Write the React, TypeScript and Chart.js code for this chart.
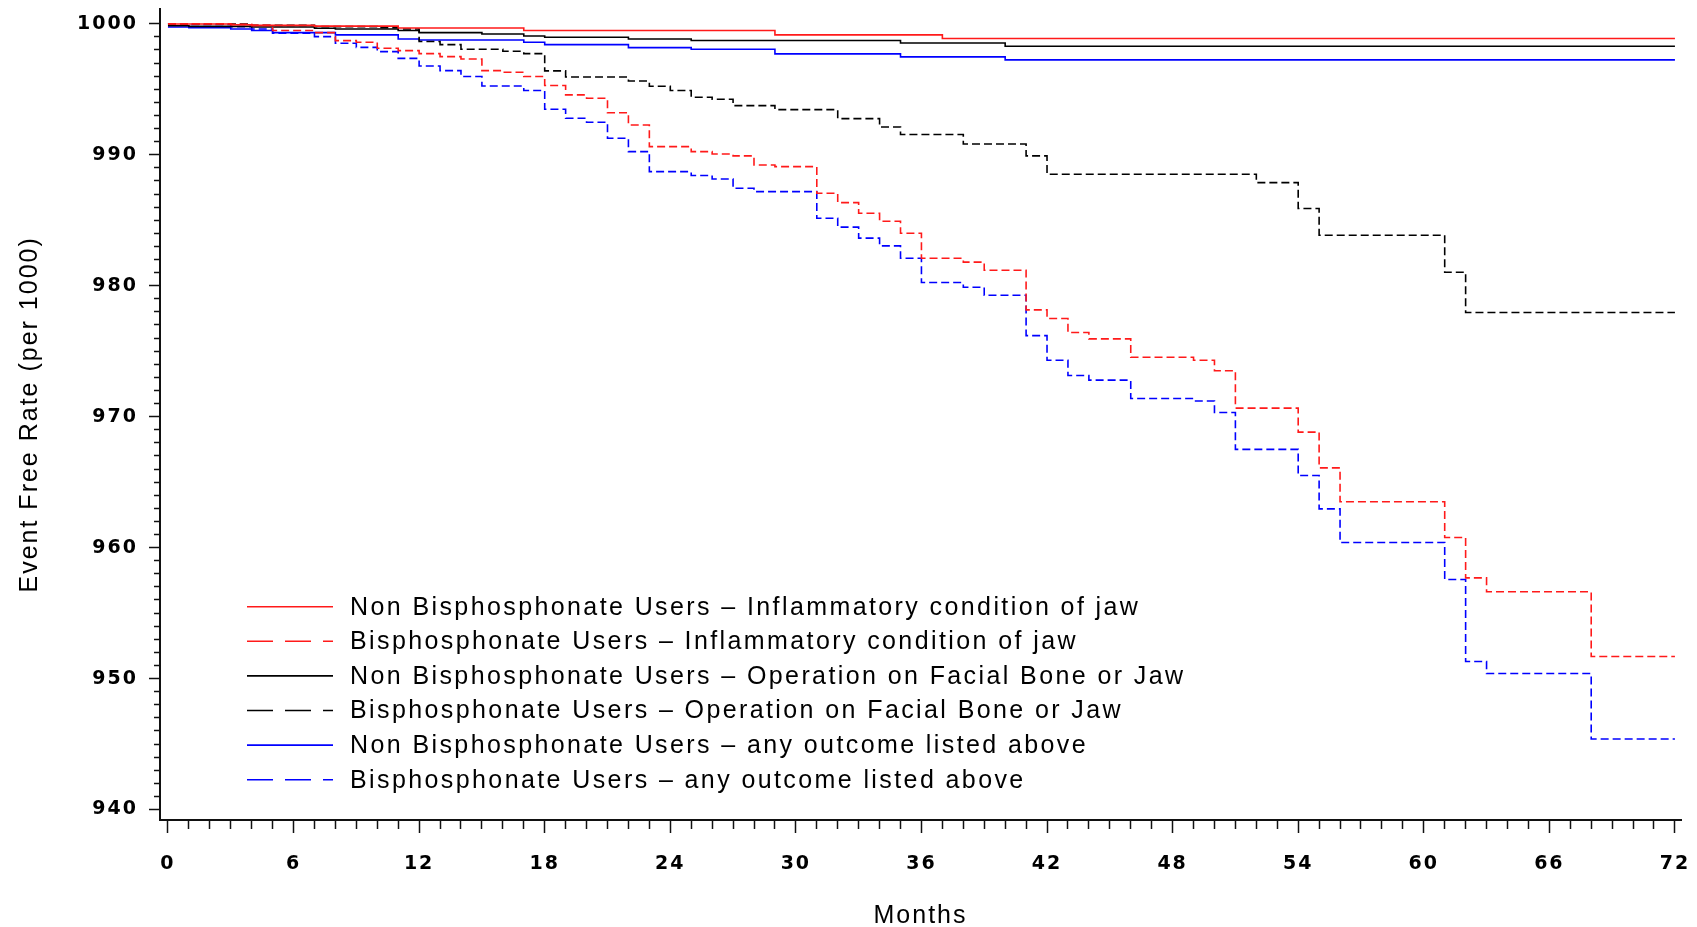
import React, { useEffect, useRef } from "react";
import { Chart, registerables } from "chart.js";

Chart.register(...registerables);

// ---------- DATA ----------
const seriesLabels = [
  "Non Bisphosphonate Users – Inflammatory condition of jaw",
  "Bisphosphonate Users – Inflammatory condition of jaw",
  "Non Bisphosphonate Users – Operation on Facial Bone or Jaw",
  "Bisphosphonate Users – Operation on Facial Bone or Jaw",
  "Non Bisphosphonate Users – any outcome listed above",
  "Bisphosphonate Users – any outcome listed above",
];

// Each series: month at which a level starts, and the event free rate from then on
const nonBpInflMonths = [0, 3, 4, 7, 11, 17, 29, 37, 72];
const nonBpInflValues = [999.98, 999.92, 999.88, 999.82, 999.68, 999.48, 999.15, 998.87, 998.87];

const bpInflMonths = [
  0, 3, 4, 5, 7, 8, 9, 10, 11, 12, 13, 14, 15, 16, 17, 18, 19, 20, 21, 22, 23, 25, 26, 27, 28, 29,
  31, 32, 33, 34, 35, 36, 38, 39, 41, 42, 43, 44, 46, 49, 50, 51, 54, 55, 56, 61, 62, 63, 68, 72,
];
const bpInflValues = [
  1000.0, 999.95, 999.88, 999.48, 999.32, 998.71, 998.59, 998.13, 997.95, 997.72, 997.49, 997.31,
  996.42, 996.3, 995.97, 995.28, 994.57, 994.31, 993.21, 992.27, 990.62, 990.24, 990.06, 989.91,
  989.22, 989.09, 987.06, 986.34, 985.53, 984.92, 984.0, 982.1, 981.8, 981.18, 978.15, 977.49,
  976.42, 975.94, 974.54, 974.31, 973.5, 970.65, 968.82, 966.09, 963.5, 960.77, 957.69, 956.63,
  951.69, 951.69,
];

const nonBpOperMonths = [0, 1, 4, 7, 8, 11, 12, 15, 17, 18, 22, 25, 35, 40, 72];
const nonBpOperValues = [
  999.85, 999.8, 999.75, 999.66, 999.6, 999.48, 999.32, 999.22, 999.07, 998.97, 998.84, 998.72,
  998.53, 998.28, 998.28,
];

const bpOperMonths = [
  0, 4, 7, 10, 11, 12, 13, 14, 16, 17, 18, 19, 22, 23, 24, 25, 26, 27, 29, 32, 34, 35, 38, 41, 42,
  52, 54, 55, 61, 62, 72,
];
const bpOperValues = [
  999.98, 999.88, 999.78, 999.7, 999.6, 998.64, 998.41, 998.05, 997.9, 997.72, 996.4, 995.94,
  995.63, 995.23, 994.9, 994.39, 994.24, 993.75, 993.44, 992.76, 992.12, 991.54, 990.82, 989.91,
  988.51, 987.87, 985.89, 983.85, 981.03, 977.95, 977.95,
];

const nonBpAnyMonths = [0, 1, 3, 4, 5, 8, 11, 12, 17, 18, 22, 25, 29, 35, 40, 72];
const nonBpAnyValues = [
  999.75, 999.7, 999.6, 999.48, 999.32, 999.15, 998.84, 998.76, 998.59, 998.41, 998.18, 998.05,
  997.7, 997.47, 997.24, 997.24,
];

const bpAnyMonths = [
  0, 1, 3, 4, 5, 7, 8, 9, 10, 11, 12, 13, 14, 15, 17, 18, 19, 20, 21, 22, 23, 25, 26, 27, 28, 31,
  32, 33, 34, 35, 36, 38, 39, 41, 42, 43, 44, 46, 49, 50, 51, 54, 55, 56, 61, 62, 63, 68, 72,
];
const bpAnyValues = [
  1000.0, 999.95, 999.78, 999.6, 999.27, 999.02, 998.51, 998.2, 997.87, 997.36, 996.78, 996.42,
  995.97, 995.25, 994.9, 993.47, 992.79, 992.48, 991.26, 990.24, 988.71, 988.41, 988.15, 987.44,
  987.18, 985.15, 984.47, 983.63, 983.04, 982.1, 980.24, 979.88, 979.27, 976.19, 974.31, 973.14,
  972.79, 971.38, 971.2, 970.32, 967.5, 965.5, 962.96, 960.39, 957.57, 951.3, 950.39, 945.38,
  945.38,
];

const xMajorTicks = [0, 6, 12, 18, 24, 30, 36, 42, 48, 54, 60, 66, 72];
const yMajorTicks = [940, 950, 960, 970, 980, 990, 1000];

const xTitle = "Months";
const yTitle = "Event Free Rate (per 1000)";

// ---------- helpers ----------
const toPoints = (months: number[], values: number[]) =>
  months.map((m, i) => ({ x: m, y: values[i] }));

const range = (a: number, b: number) => {
  const out: number[] = [];
  for (let v = a; v <= b; v++) out.push(v);
  return out;
};

const RED = "#ff1a1a";
const BLACK = "#000000";
const BLUE = "#0000ff";
const DASH = [8, 4];

export default function App() {
  const canvasRef = useRef<HTMLCanvasElement | null>(null);

  useEffect(() => {
    const canvas = canvasRef.current;
    if (!canvas) return;

    const series = [
      { m: nonBpInflMonths, v: nonBpInflValues, c: RED, d: [] as number[] },
      { m: bpInflMonths, v: bpInflValues, c: RED, d: DASH },
      { m: nonBpOperMonths, v: nonBpOperValues, c: BLACK, d: [] as number[] },
      { m: bpOperMonths, v: bpOperValues, c: BLACK, d: DASH },
      { m: nonBpAnyMonths, v: nonBpAnyValues, c: BLUE, d: [] as number[] },
      { m: bpAnyMonths, v: bpAnyValues, c: BLUE, d: DASH },
    ];

    const spacingPlugin = {
      id: "spacing",
      beforeUpdate(chart: any) {
        chart.ctx.letterSpacing = "2px";
      },
      beforeLayout(chart: any) {
        chart.ctx.letterSpacing = "2px";
      },
      beforeDraw(chart: any) {
        chart.ctx.letterSpacing = "2px";
      },
    };

    const legendPlugin = {
      id: "inlineLegend",
      afterDraw(chart: any) {
        const { ctx, chartArea } = chart;
        ctx.save();
        ctx.letterSpacing = "2.4px";
        ctx.font = "25px 'Liberation Sans', Arial, sans-serif";
        ctx.textBaseline = "middle";
        ctx.textAlign = "left";
        chart.data.datasets.forEach((ds: any, i: number) => {
          const y = chartArea.top + 598 + i * 34.6;
          ctx.beginPath();
          ctx.strokeStyle = ds.borderColor;
          ctx.lineWidth = 1.6;
          ctx.setLineDash(ds.borderDash && ds.borderDash.length ? [26, 12] : []);
          ctx.moveTo(chartArea.left + 87, y);
          ctx.lineTo(chartArea.left + 173, y);
          ctx.stroke();
          ctx.setLineDash([]);
          ctx.fillStyle = "#000";
          ctx.fillText(ds.label, chartArea.left + 190, y + 1);
        });
        ctx.restore();
      },
    };

    const xInts = range(0, 72);
    const yInts = range(940, 1000);

    const chart = new Chart(canvas, {
      type: "line",
      data: {
        datasets: series.map((s, i) => ({
          label: seriesLabels[i],
          data: toPoints(s.m, s.v),
          borderColor: s.c,
          backgroundColor: s.c,
          borderWidth: 1.6,
          borderDash: s.d,
          stepped: true,
          pointRadius: 0,
          fill: false,
        })),
      },
      options: {
        animation: false,
        responsive: false,
        events: [],
        layout: { padding: { top: 8.7, right: 16, bottom: 0, left: 0 } },
        plugins: {
          legend: { display: false },
          tooltip: { enabled: false },
        },
        scales: {
          x: {
            type: "linear",
            min: -0.38,
            max: 72.29,
            afterBuildTicks: (scale: any) => {
              scale.ticks = xInts.map((v) => ({ value: v }));
            },
            afterFit: (scale: any) => {
              scale.height = 107;
              scale.paddingLeft = 0;
              scale.paddingRight = 0;
            },
            border: { display: true, color: "#111", width: 2 },
            grid: {
              display: true,
              drawOnChartArea: false,
              drawTicks: true,
              tickLength: 13,
              tickColor: "#111",
              tickWidth: 1.5,
              tickBorderDash: (ctx: any) =>
                ctx.tick && xMajorTicks.includes(ctx.tick.value) ? [] : [8, 100],
            },
            ticks: {
              autoSkip: false,
              maxRotation: 0,
              minRotation: 0,
              padding: 20,
              color: "#000",
              font: { family: "'DejaVu Sans'", size: 19, weight: "bold" },
              callback: (v: any) => (xMajorTicks.includes(Number(v)) ? String(v) : ""),
            },
            title: {
              display: true,
              text: xTitle,
              color: "#000",
              padding: { top: 0, bottom: -4 },
              font: { family: "'Liberation Sans', Arial, sans-serif", size: 25, weight: "normal" },
            },
          },
          y: {
            type: "linear",
            min: 939.2,
            max: 1001.15,
            afterBuildTicks: (scale: any) => {
              scale.ticks = yInts.map((v) => ({ value: v }));
            },
            afterFit: (scale: any) => {
              scale.width = 160;
              scale.paddingTop = 0;
              scale.paddingBottom = 0;
            },
            border: { display: true, color: "#111", width: 2 },
            grid: {
              display: true,
              drawOnChartArea: false,
              drawTicks: true,
              tickLength: 11,
              tickColor: "#111",
              tickWidth: 1.5,
              tickBorderDash: (ctx: any) =>
                ctx.tick && yMajorTicks.includes(ctx.tick.value) ? [] : [0, 5, 6, 100],
            },
            ticks: {
              autoSkip: false,
              padding: 11,
              color: "#000",
              font: { family: "'DejaVu Sans'", size: 19, weight: "bold" },
              callback: (v: any) => (yMajorTicks.includes(Number(v)) ? String(v) : ""),
            },
            title: {
              display: true,
              text: yTitle,
              color: "#000",
              padding: { top: 15, bottom: 0 },
              font: { family: "'Liberation Sans', Arial, sans-serif", size: 25, weight: "normal" },
            },
          },
        },
      },
      plugins: [spacingPlugin, legendPlugin],
    } as any);

    return () => {
      chart.destroy();
    };
  }, []);

  return (
    <div
      style={{
        position: "fixed",
        left: 0,
        top: 0,
        width: 1697,
        height: 927,
        background: "#fff",
      }}
    >
      <canvas ref={canvasRef} width={1697} height={927} style={{ display: "block" }} />
    </div>
  );
}
